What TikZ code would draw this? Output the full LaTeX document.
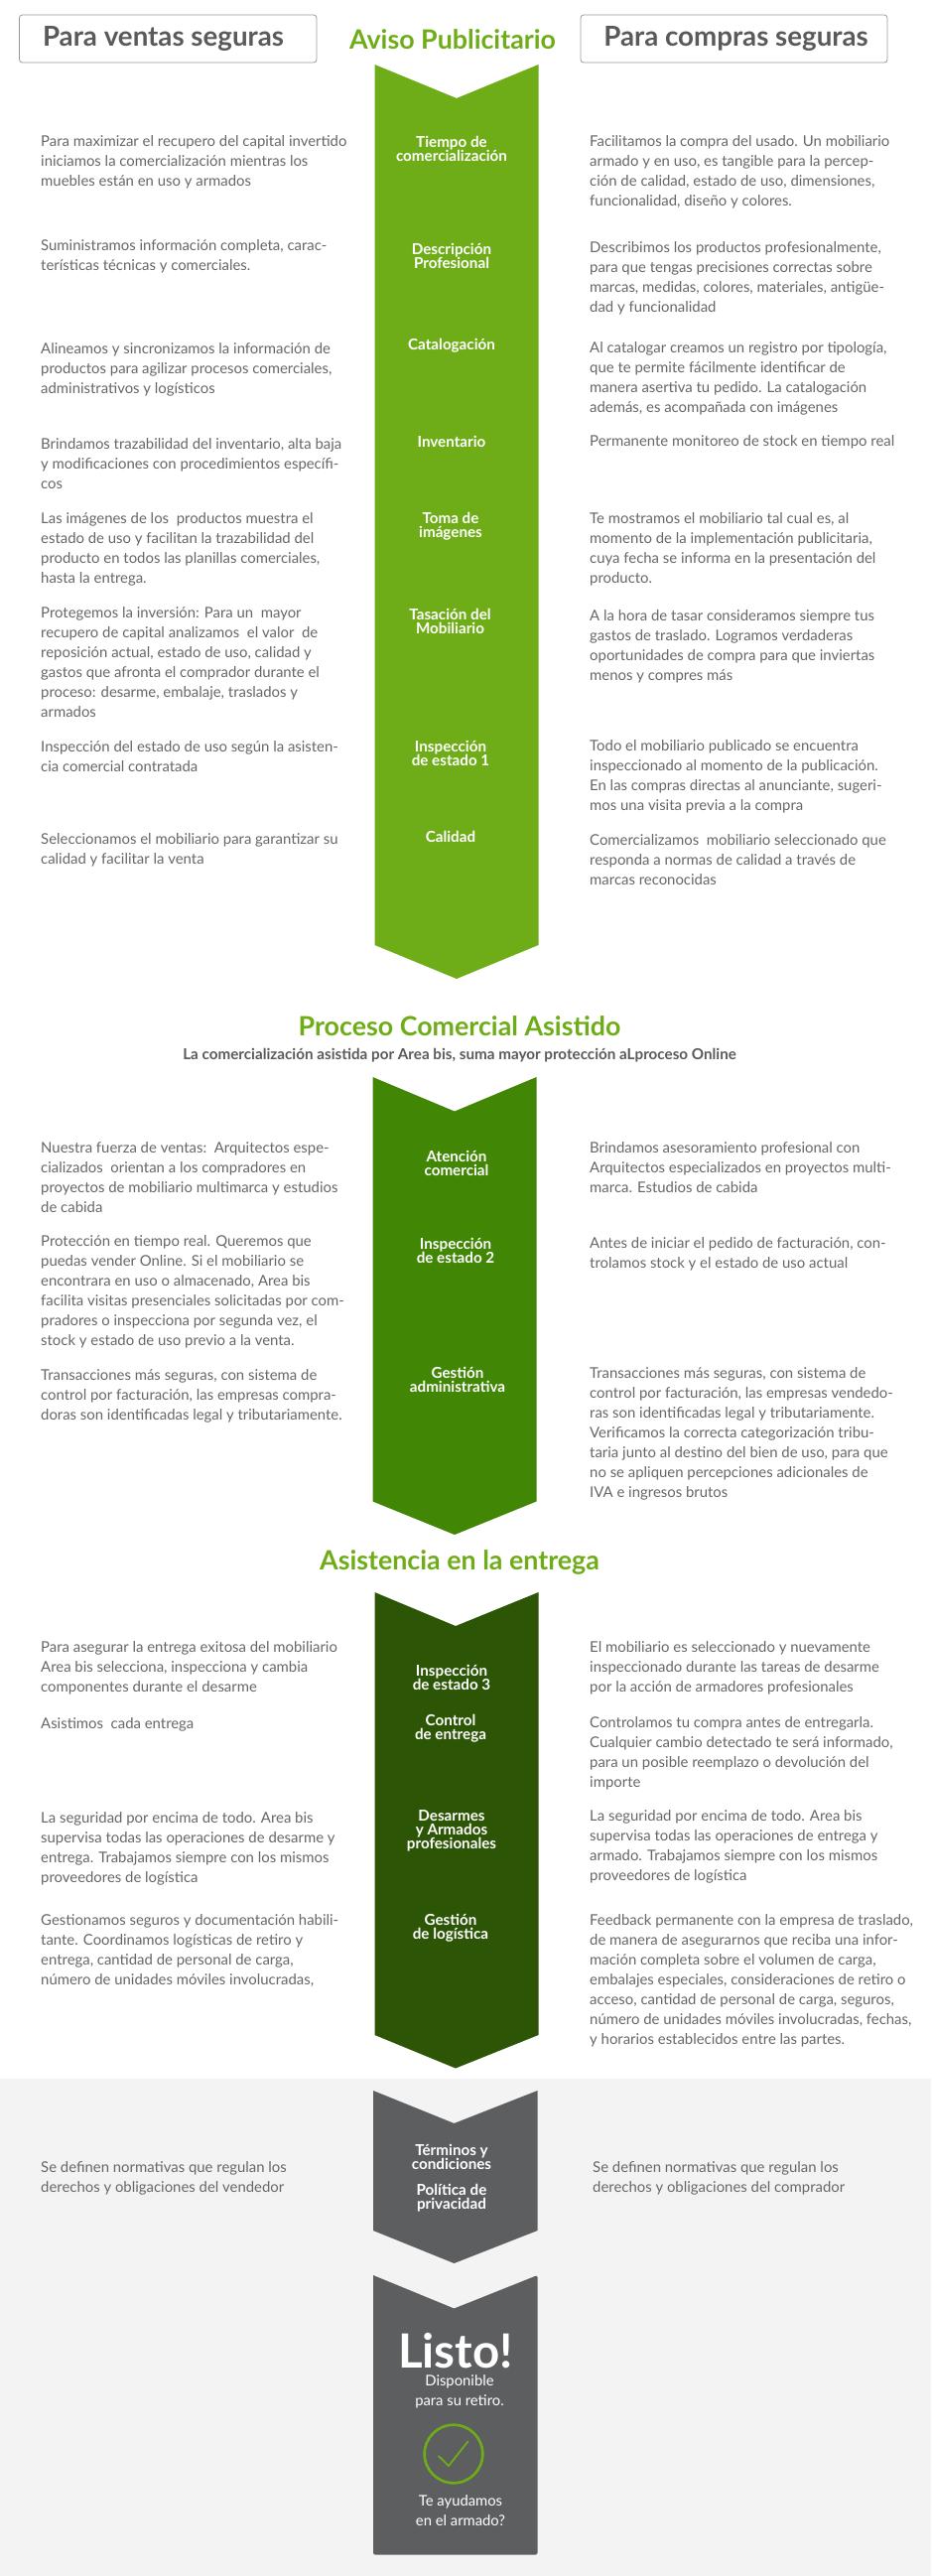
\documentclass[tikz,border=0pt]{standalone}
\usepackage{fontspec}
\setmainfont{Lato}
\usetikzlibrary{calc}
\definecolor{avisoG}{HTML}{6FAD18}
\definecolor{procesoG}{HTML}{428605}
\definecolor{entregaG}{HTML}{2C5505}
\definecolor{cierreK}{HTML}{5D5E60}
\definecolor{bandaK}{HTML}{F3F3F3}
\definecolor{textoK}{HTML}{5A5A5A}
\definecolor{cuerpoK}{HTML}{676767}
\tikzstyle{cuerpo}=[anchor=north west, inner sep=0pt, yshift=-3.5pt, align=left, text=cuerpoK, font=\fontsize{14.9}{20}\selectfont]
\tikzstyle{etapa}=[anchor=center, inner sep=0pt, align=center, text=white, font=\bfseries\fontsize{15.2}{14}\selectfont]
\tikzstyle{titulo}=[anchor=center, inner sep=0pt, text=avisoG, font=\bfseries\fontsize{26.8}{30}\selectfont]
\tikzstyle{cabecera}=[anchor=center, inner sep=0pt, text=textoK, font=\bfseries\fontsize{27.7}{30}\selectfont]
\tikzstyle{marco}=[draw=black!40, line width=0.8pt, fill=white, rounded corners=3pt]
\tikzstyle{cierre}=[anchor=center, inner sep=0pt, align=center, text=white, font=\fontsize{14.8}{20.5}\selectfont]

\begin{document}
\begin{tikzpicture}[x=1pt, y=-1pt]
	\useasboundingbox (0,0) rectangle (938,2595);
	\fill[white] (0,0) rectangle (938,2094);
	\fill[bandaK] (0,2094) rectangle (938,2595);

	\draw[marco] (19.5,15) rectangle (319,63);
	\draw[marco] (585,15) rectangle (894,63);
	\node[cabecera] (ventas) at (164.5,39) {Para ventas seguras};
	\node[cabecera] (compras) at (741.5,39) {Para compras seguras};
	\node[titulo] (aviso) at (456,40) {Aviso Publicitario};

	\fill[avisoG] (377.5,65) -- (460,99) -- (542.5,65) -- (542.5,952) -- (460,986) -- (377.5,952) -- cycle;

	\node[cuerpo] (a1i) at (41,133) {Para maximizar el recupero del capital invertido\\iniciamos la comercialización mientras los\\muebles están en uso y armados};
	\node[etapa] (a1c) at (455,150) {Tiempo de\\comercialización};
	\node[cuerpo] (a1d) at (594,133) {Facilitamos la compra del usado. Un mobiliario\\armado y en uso, es tangible para la percep-\\ción de calidad, estado de uso, dimensiones,\\funcionalidad, diseño y colores.};

	\node[cuerpo] (a2i) at (41,238) {Suministramos información completa, carac-\\terísticas técnicas y comerciales.};
	\node[etapa] (a2c) at (455,258) {Descripción\\Profesional};
	\node[cuerpo] (a2d) at (594,240) {Describimos los productos profesionalmente,\\para que tengas precisiones correctas sobre\\marcas, medidas, colores, materiales, antigüe-\\dad y funcionalidad};

	\node[cuerpo] (a3i) at (41,342) {Alineamos y sincronizamos la información de\\productos para agilizar procesos comerciales,\\administrativos y logísticos};
	\node[etapa] (a3c) at (455,348) {Catalogación};
	\node[cuerpo] (a3d) at (594,341) {Al catalogar creamos un registro por tipología,\\que te permite fácilmente identificar de\\manera asertiva tu pedido. La catalogación\\además, es acompañada con imágenes};

	\node[cuerpo] (a4i) at (41,438) {Brindamos trazabilidad del inventario, alta baja\\y modificaciones con procedimientos específi-\\cos};
	\node[etapa] (a4c) at (455,445) {Inventario};
	\node[cuerpo] (a4d) at (594,435) {Permanente monitoreo de stock en tiempo real};

	\node[cuerpo] (a5i) at (41,513) {Las imágenes de los\ \ productos muestra el\\estado de uso y facilitan la trazabilidad del\\producto en todos las planillas comerciales,\\hasta la entrega.};
	\node[etapa] (a5c) at (454,530) {Toma de\\imágenes};
	\node[cuerpo] (a5d) at (594,513) {Te mostramos el mobiliario tal cual es, al\\momento de la implementación publicitaria,\\cuya fecha se informa en la presentación del\\producto.};

	\node[cuerpo] (a6i) at (41,608) {Protegemos la inversión: Para un\ \ mayor\\recupero de capital analizamos\ \ el valor\ \ de\\reposición actual, estado de uso, calidad y\\gastos que afronta el comprador durante el\\proceso: desarme, embalaje, traslados y\\armados};
	\node[etapa] (a6c) at (453.5,626) {Tasación del\\Mobiliario};
	\node[cuerpo] (a6d) at (594,611) {A la hora de tasar consideramos siempre tus\\gastos de traslado. Logramos verdaderas\\oportunidades de compra para que inviertas\\menos y compres más};

	\node[cuerpo] (a7i) at (41,743) {Inspección del estado de uso según la asisten-\\cia comercial contratada};
	\node[etapa] (a7c) at (454,759) {Inspección\\de estado 1};
	\node[cuerpo] (a7d) at (594,742) {Todo el mobiliario publicado se encuentra\\inspeccionado al momento de la publicación.\\En las compras directas al anunciante, sugeri-\\mos una visita previa a la compra};

	\node[cuerpo] (a8i) at (41,836) {Seleccionamos el mobiliario para garantizar su\\calidad y facilitar la venta};
	\node[etapa] (a8c) at (454,843) {Calidad};
	\node[cuerpo] (a8d) at (594,837) {Comercializamos\ \ mobiliario seleccionado que\\responda a normas de calidad a través de\\marcas reconocidas};

	\node[titulo] (proceso) at (463,1034) {Proceso Comercial Asistido};
	\node[anchor=center, inner sep=0pt, text=textoK, font=\bfseries\fontsize{15.2}{16}\selectfont] (bajada) at (463,1063) {La comercialización asistida por Area bis, suma mayor protección aLproceso Online};

	\fill[procesoG] (375.5,1085) -- (458,1119.5) -- (540.5,1085) -- (540.5,1512.5) -- (458,1546) -- (375.5,1512.5) -- cycle;

	\node[cuerpo] (p1i) at (41,1146.5) {Nuestra fuerza de ventas:\ \ Arquitectos espe-\\cializados\ \ orientan a los compradores en\\proyectos de mobiliario multimarca y estudios\\de cabida};
	\node[etapa] (p1c) at (460,1172) {Atención\\comercial};
	\node[cuerpo] (p1d) at (594,1146.5) {Brindamos asesoramiento profesional con\\Arquitectos especializados en proyectos multi-\\marca. Estudios de cabida};

	\node[cuerpo] (p2i) at (41,1241) {Protección en tiempo real. Queremos que\\puedas vender Online. Si el mobiliario se\\encontrara en uso o almacenado, Area bis\\facilita visitas presenciales solicitadas por com-\\pradores o inspecciona por segunda vez, el\\stock y estado de uso previo a la venta.};
	\node[etapa] (p2c) at (459,1260) {Inspección\\de estado 2};
	\node[cuerpo] (p2d) at (594,1243) {Antes de iniciar el pedido de facturación, con-\\trolamos stock y el estado de uso actual};

	\node[cuerpo] (p3i) at (41,1375.5) {Transacciones más seguras, con sistema de\\control por facturación, las empresas compra-\\doras son identificadas legal y tributariamente.};
	\node[etapa] (p3c) at (461,1390) {Gestión\\administrativa};
	\node[cuerpo] (p3d) at (594,1373.5) {Transacciones más seguras, con sistema de\\control por facturación, las empresas vendedo-\\ras son identificadas legal y tributariamente.\\Verificamos la correcta categorización tribu-\\taria junto al destino del bien de uso, para que\\no se apliquen percepciones adicionales de\\IVA e ingresos brutos};

	\node[titulo] (asistencia) at (463,1574) {Asistencia en la entrega};

	\fill[entregaG] (377.5,1604) -- (459,1638) -- (542.5,1604) -- (542.5,2050) -- (459,2083.5) -- (377.5,2050) -- cycle;

	\node[cuerpo] (e1i) at (41,1649.5) {Para asegurar la entrega exitosa del mobiliario\\Area bis selecciona, inspecciona y cambia\\componentes durante el desarme};
	\node[etapa] (e1c) at (455,1690) {Inspección\\de estado 3};
	\node[cuerpo] (e1d) at (594,1649.5) {El mobiliario es seleccionado y nuevamente\\inspeccionado durante las tareas de desarme\\por la acción de armadores profesionales};

	\node[cuerpo] (e2i) at (41,1727) {Asistimos\ \ cada entrega};
	\node[etapa] (e2c) at (454,1741.5) {Control\\de entrega};
	\node[cuerpo] (e2d) at (594,1726) {Controlamos tu compra antes de entregarla.\\Cualquier cambio detectado te será informado,\\para un posible reemplazo o devolución del\\importe};

	\node[cuerpo] (e3i) at (41,1822) {La seguridad por encima de todo. Area bis\\supervisa todas las operaciones de desarme y\\entrega. Trabajamos siempre con los mismos\\proveedores de logística};
	\node[etapa] (e3c) at (455,1844) {Desarmes\\y Armados\\profesionales};
	\node[cuerpo] (e3d) at (594,1820) {La seguridad por encima de todo. Area bis\\supervisa todas las operaciones de entrega y\\armado. Trabajamos siempre con los mismos\\proveedores de logística};

	\node[cuerpo] (e4i) at (41,1925) {Gestionamos seguros y documentación habili-\\tante. Coordinamos logísticas de retiro y\\entrega, cantidad de personal de carga,\\número de unidades móviles involucradas,};
	\node[etapa] (e4c) at (454,1942.5) {Gestión\\de logística};
	\node[cuerpo] (e4d) at (594,1925) {Feedback permanente con la empresa de traslado,\\de manera de asegurarnos que reciba una infor-\\mación completa sobre el volumen de carga,\\embalajes especiales, consideraciones de retiro o\\acceso, cantidad de personal de carga, seguros,\\número de unidades móviles involucradas, fechas,\\y horarios establecidos entre las partes.};

	\fill[cierreK] (376,2106) -- (457.5,2139) -- (541.5,2106) -- (541.5,2247) -- (457.5,2280) -- (376,2247) -- cycle;
	\fill[cierreK, rounded corners=2pt] (376,2292) -- (376,2573.5) -- (541.5,2573.5) -- (541.5,2292) [sharp corners] -- (457.5,2325.5) -- cycle;

	\node[cuerpo] (c1i) at (41,2173.7) {Se definen normativas que regulan los\\derechos y obligaciones del vendedor};
	\node[etapa] (c1c) at (455,2172.7) {Términos y\\condiciones};
	\node[etapa] (c2c) at (455,2214.5) {Política de\\privacidad};
	\node[cuerpo] (c1d) at (597,2173.7) {Se definen normativas que regulan los\\derechos y obligaciones del comprador};

	\node[anchor=center, inner sep=0pt, text=white, font=\bfseries\fontsize{47.5}{50}\selectfont] (listo) at (459,2368) {Listo!};
	\node[cierre] (retiro) at (463,2409.5) {Disponible\\para su retiro.};
	\draw[avisoG, line width=2.6pt] (457,2472) circle (29.3);
	\draw[avisoG, line width=1.8pt] (441.7,2474) -- (452,2484) -- (471.8,2459);
	\node[cierre] (armado) at (464,2529) {Te ayudamos\\en el armado?};
\end{tikzpicture}
\end{document}
